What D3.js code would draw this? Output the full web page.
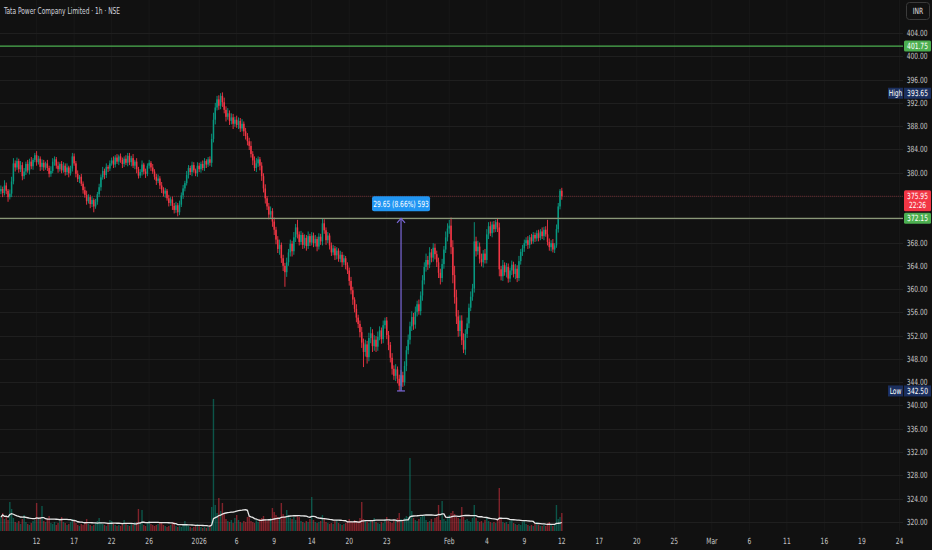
<!DOCTYPE html>
<html>
<head>
<meta charset="utf-8">
<script src="https://cdn.jsdelivr.net/npm/d3@7"></script>
<style>
  html, body { margin: 0; padding: 0; background: #111111; }
  svg { display: block; font-family: "Liberation Sans Narrow", "DejaVu Sans Condensed", "Liberation Sans", sans-serif; }
</style>
</head>
<body>
<svg id="chart" width="932" height="550"></svg>
<script>
const TITLE = "Tata Power Company Limited · 1h · NSE";

// hourly closes, Dec 9 (partial) .. Feb 12 (first bar), 7 bars per session
const firstOpen = 376.8;
const closes = [
  377.2, 376.5, 377.8, 376.9, 375.8, 376.4,
  378.5, 381.6, 380.9, 382.0, 380.6, 381.3, 379.4,
  380.2, 381.5, 380.4, 381.9, 381.1, 382.2, 383.0,
  381.8, 382.4, 381.0, 381.7, 380.9, 381.6, 380.8,
  379.8, 380.3, 381.9, 382.3, 381.2, 380.6, 381.5,
  380.4, 381.2, 380.1, 380.9, 379.9, 380.7, 382.8,
  381.6, 379.8, 378.9, 379.3, 378.1, 377.0, 376.2,
  375.1, 375.8, 374.6, 375.3, 374.2, 375.0, 376.3,
  377.5, 379.2, 380.3, 379.6, 381.0, 380.7, 381.6,
  382.1, 381.4, 382.6, 381.9, 382.8, 382.2, 381.5,
  382.4, 381.7, 382.9, 381.8, 382.5, 381.2, 381.9,
  380.6, 379.5, 380.1, 381.4, 380.2, 379.8, 381.2,
  381.7, 380.9, 380.2, 379.3, 378.6, 379.0, 377.8,
  377.1, 376.4, 376.9, 375.6, 374.8, 375.4, 374.3,
  373.6, 374.4, 373.2, 374.5, 376.1, 377.3, 378.2,
  379.6, 380.8, 380.1, 381.3, 380.4, 379.9, 381.2,
  380.6, 381.5, 380.8, 382.0, 381.4, 382.3, 381.7,
  385.8, 389.1, 391.2, 392.6, 391.5, 393.2, 392.1,
  390.8, 389.6, 390.2, 388.9, 389.5, 388.4, 389.1,
  388.2, 388.9, 387.6, 388.4, 387.1, 386.3, 385.4,
  384.6, 383.2, 382.1, 380.8, 381.6, 382.3, 381.2,
  379.4, 377.3, 375.6, 374.2, 372.8, 373.4, 371.6,
  370.2, 368.5, 366.9, 367.6, 365.3, 364.0, 362.9,
  364.6, 366.3, 367.8, 366.5, 368.9, 370.6, 369.4,
  368.1, 369.3, 367.6, 368.8, 367.4, 369.1, 368.0,
  369.2, 367.9, 368.6, 367.3, 369.0, 368.2, 371.3,
  370.1, 368.4, 369.2, 367.5, 366.3, 367.0, 365.8,
  366.6, 365.2, 365.9, 364.6, 365.3, 364.1, 363.2,
  361.4, 359.8, 358.2, 356.6, 355.1, 354.0, 352.6,
  350.8, 349.2, 350.5, 348.3, 351.6, 352.4, 350.2,
  351.3, 350.1, 351.8, 352.9, 351.4, 353.8, 354.6,
  352.1, 350.4, 348.2, 346.3, 345.1, 346.2, 344.6,
  343.4, 345.2, 344.0, 346.8, 349.5, 351.3, 353.6,
  355.2, 353.9, 356.1, 357.4, 356.2, 358.9, 361.5,
  363.8, 365.0, 364.2, 366.3, 365.4, 367.1, 366.0,
  364.6, 362.8, 361.9, 364.3, 366.8, 368.9, 370.4,
  370.9, 367.2, 362.4, 358.6, 355.3, 352.8, 354.6,
  351.2, 349.6, 352.3, 354.1, 356.8, 358.7, 360.1,
  368.2, 366.5, 367.3, 365.2, 364.6, 366.1, 365.0,
  369.4, 370.8, 369.6, 371.1, 370.3, 371.5, 370.6,
  363.4, 362.2, 364.1, 362.9, 363.8, 361.8, 363.2,
  364.2, 362.6, 363.5, 361.9, 364.8, 366.4, 367.0,
  367.9, 368.4, 367.6, 368.9, 368.2, 369.3, 368.7,
  369.6, 368.8, 369.9, 369.1, 370.2, 369.4, 368.1,
  367.2, 367.9, 366.8, 367.5, 370.3, 374.2, 376.9,
  375.95
];

// wick length above max(open, close)
const highExt = [
  0.6, 0.4, 0.9, 0.5, 0.3, 0.7,
  0.8, 0.9, 0.5, 0.6, 0.4, 0.7, 0.5,
  0.6, 0.4, 0.7, 0.5, 0.8, 0.3, 0.4,
  0.7, 0.5, 0.4, 0.6, 0.5, 0.3, 0.6,
  0.4, 0.8, 0.6, 0.5, 0.4, 0.7, 0.3,
  0.5, 0.6, 0.4, 0.7, 0.3, 0.5, 0.6,
  0.5, 0.4, 0.6, 0.3, 0.5, 0.4, 0.6,
  0.7, 0.5, 0.4, 0.6, 0.3, 0.5, 0.4,
  0.6, 0.5, 0.7, 0.4, 0.6, 0.3, 0.5,
  0.5, 0.7, 0.4, 0.6, 0.3, 0.5, 0.4,
  0.4, 0.6, 0.5, 0.5, 0.4, 0.7, 0.3,
  0.6, 0.4, 0.5, 0.7, 0.3, 0.5, 0.4,
  0.5, 0.3, 0.6, 0.4, 0.5, 0.7, 0.4,
  0.6, 0.4, 0.5, 0.3, 0.6, 0.4, 0.5,
  0.5, 0.6, 0.4, 0.7, 0.5, 0.6, 0.4,
  0.7, 0.5, 0.4, 0.6, 0.5, 0.3, 0.6,
  0.5, 0.4, 0.6, 0.5, 0.3, 0.4, 0.5,
  0.9, 1.2, 0.8, 0.6, 0.7, 0.45, 0.6,
  0.8, 0.6, 0.9, 0.5, 0.7, 0.6, 0.5,
  0.7, 0.6, 0.5, 0.8, 0.4, 0.6, 0.5,
  0.6, 0.8, 0.5, 0.7, 0.9, 0.5, 0.4,
  0.6, 0.5, 0.7, 0.4, 0.6, 0.8, 0.5,
  0.7, 0.5, 0.6, 0.9, 0.4, 0.6, 0.5,
  0.8, 0.6, 0.7, 0.5, 0.9, 0.6, 1.3,
  0.5, 0.7, 0.4, 0.6, 0.5, 0.8, 0.4,
  0.6, 0.5, 0.7, 0.4, 0.6, 0.5, 0.9,
  0.7, 0.5, 0.6, 0.4, 0.5, 0.6, 0.4,
  0.6, 0.4, 0.7, 0.5, 0.6, 0.4, 0.5,
  0.5, 0.7, 0.6, 0.4, 0.8, 0.5, 0.6,
  0.9, 0.7, 0.8, 0.6, 0.9, 1.1, 0.7,
  0.8, 0.6, 0.9, 0.7, 0.5, 0.8, 0.5,
  0.6, 0.7, 0.5, 0.8, 0.6, 0.9, 0.5,
  0.7, 0.9, 0.6, 0.8, 0.7, 0.9, 0.8,
  1.0, 0.7, 0.9, 0.6, 0.8, 0.7, 0.9,
  0.8, 1.1, 0.7, 0.9, 0.6, 0.8, 0.7,
  0.6, 0.8, 0.7, 0.9, 0.6, 1.0, 0.9,
  1.0, 1.4, 1.2, 1.6, 1.3, 1.1, 0.9,
  0.9, 1.2, 0.8, 1.0, 0.7, 0.9, 0.8,
  3.3, 0.8, 1.0, 0.7, 0.9, 0.6, 0.8,
  0.9, 0.7, 0.8, 0.5, 0.6, 0.4, 0.7,
  0.8, 0.6, 0.9, 0.5, 0.7, 0.6, 0.5,
  0.7, 0.5, 0.8, 0.6, 0.9, 0.5, 0.6,
  0.6, 0.5, 0.7, 0.4, 0.6, 0.5, 0.4,
  0.5, 0.6, 0.4, 0.7, 0.5, 0.6, 2.5,
  0.6, 0.5, 0.7, 0.4, 0.8, 0.6, 0.3,
  0.5
];

// wick length below min(open, close)
const lowExt = [
  0.5, 0.7, 0.4, 0.6, 0.8, 0.4,
  0.6, 0.5, 0.7, 0.4, 0.6, 0.5, 0.7,
  0.5, 0.6, 0.4, 0.7, 0.5, 0.6, 0.4,
  0.6, 0.4, 0.7, 0.5, 0.6, 0.4, 0.5,
  0.6, 0.5, 0.4, 0.7, 0.5, 0.6, 0.4,
  0.5, 0.4, 0.6, 0.5, 0.7, 0.4, 0.5,
  0.4, 0.6, 0.5, 0.7, 0.4, 0.6, 0.5,
  0.6, 0.4, 0.7, 0.5, 1.0, 0.4, 0.5,
  0.5, 0.6, 0.4, 0.7, 0.5, 0.6, 0.4,
  0.4, 0.6, 0.5, 0.4, 0.6, 0.5, 0.7,
  0.5, 0.4, 0.6, 0.5, 0.7, 0.4, 0.6,
  0.7, 0.5, 0.4, 0.6, 0.5, 0.7, 0.4,
  0.5, 0.6, 0.4, 0.5, 0.7, 0.4, 0.6,
  0.6, 0.5, 0.7, 0.4, 0.6, 0.5, 0.7,
  0.6, 0.5, 0.7, 0.5, 0.4, 0.6, 0.5,
  0.4, 0.6, 0.5, 0.7, 0.4, 0.5, 0.6,
  0.5, 0.6, 0.4, 0.5, 0.6, 0.4, 0.5,
  0.7, 0.6, 0.8, 0.5, 0.7, 0.6, 0.8,
  0.6, 0.8, 0.5, 0.7, 0.6, 0.9, 0.5,
  0.5, 0.7, 0.6, 0.5, 0.8, 0.6, 0.7,
  0.7, 0.6, 0.8, 0.5, 0.7, 0.6, 0.8,
  0.8, 0.7, 0.9, 0.6, 0.8, 0.7, 0.9,
  0.9, 0.8, 0.7, 1.0, 0.8, 0.9, 2.5,
  0.8, 0.6, 0.7, 0.9, 0.6, 0.8, 0.7,
  0.6, 0.5, 0.7, 0.6, 0.8, 0.5, 0.6,
  0.5, 0.7, 0.6, 0.8, 0.5, 0.6, 0.7,
  0.6, 0.8, 0.5, 0.7, 0.6, 0.5, 0.8,
  0.7, 0.5, 0.6, 0.8, 0.5, 0.7, 0.6,
  0.8, 0.7, 0.9, 0.6, 0.8, 0.7, 0.9,
  0.9, 2.6, 0.8, 1.1, 0.7, 0.9, 1.0,
  0.8, 0.9, 0.7, 0.6, 0.8, 0.7, 0.6,
  0.7, 0.9, 0.8, 1.0, 0.7, 0.9, 0.8,
  0.9, 0.7, 0.8, 0.6, 0.9, 0.7, 0.8,
  0.8, 0.9, 0.7, 0.8, 0.6, 0.7, 0.9,
  0.7, 0.8, 0.9, 0.6, 0.8, 0.7, 0.9,
  0.8, 0.9, 1.1, 0.7, 0.8, 0.6, 0.7,
  0.9, 1.2, 1.4, 1.1, 1.3, 1.0, 0.9,
  0.8, 0.6, 0.9, 0.7, 0.8, 0.6, 0.7,
  0.7, 0.9, 0.6, 0.8, 0.7, 0.9, 0.6,
  0.6, 0.8, 0.5, 0.7, 0.6, 0.5, 0.8,
  1.2, 0.7, 0.8, 0.6, 0.9, 0.7, 0.6,
  0.8, 0.6, 0.9, 0.7, 0.5, 0.6, 0.7,
  0.6, 0.5, 0.7, 0.6, 0.5, 0.4, 0.6,
  0.5, 0.6, 0.4, 0.5, 0.7, 0.4, 0.6,
  0.6, 0.7, 0.5, 0.6, 0.4, 0.6, 0.5,
  0.6
];

// volume, lakh shares per bar
const volumes = [
  14, 18, 12, 15, 11, 29,
  22, 13, 9, 8, 10, 7, 12,
  16, 9, 7, 6, 8, 10, 11,
  28, 12, 14, 25, 10, 9, 13,
  15, 8, 7, 9, 6, 8, 10,
  14, 9, 8, 6, 7, 9, 12,
  11, 8, 6, 5, 7, 6, 9,
  12, 7, 6, 5, 6, 8, 10,
  13, 9, 7, 6, 5, 7, 11,
  10, 7, 6, 5, 6, 5, 8,
  11, 8, 6, 5, 7, 6, 9,
  9, 22, 7, 21, 6, 5, 8,
  10, 7, 6, 5, 6, 7, 9,
  8, 6, 5, 4, 5, 6, 8,
  9, 5, 4, 5, 4, 6, 10,
  7, 5, 4, 3, 4, 5, 7,
  6, 4, 3, 4, 3, 4, 6,
  24, 132, 26, 18, 33, 20, 28,
  18, 12, 10, 9, 11, 8, 13,
  16, 11, 9, 8, 10, 9, 14,
  15, 10, 9, 8, 11, 9, 12,
  13, 15, 12, 10, 11, 13, 23,
  19, 16, 14, 12, 28, 17, 15,
  21, 16, 13, 12, 14, 11, 15,
  14, 10, 9, 8, 10, 9, 12,
  34, 11, 9, 8, 9, 10, 16,
  12, 9, 8, 7, 8, 7, 10,
  11, 8, 7, 6, 7, 8, 10,
  12, 10, 9, 11, 9, 10, 13,
  29, 12, 10, 9, 8, 10, 11,
  13, 9, 8, 7, 9, 8, 12,
  14, 10, 9, 8, 11, 10, 13,
  18, 12, 11, 13, 15, 14, 73,
  20, 13, 11, 10, 12, 14, 16,
  15, 11, 9, 10, 12, 9, 13,
  14, 26, 11, 30, 12, 10, 14,
  16, 18, 20, 17, 14, 13, 12,
  24, 14, 11, 12, 10, 9, 13,
  26, 13, 10, 9, 10, 8, 11,
  14, 10, 9, 8, 9, 8, 12,
  43, 12, 9, 8, 9, 7, 10,
  11, 8, 7, 6, 7, 6, 9,
  10, 7, 6, 5, 6, 5, 8,
  9, 6, 5, 5, 6, 5, 8,
  9, 6, 5, 6, 26, 12, 14,
  18
];

const tickLabels = ["12", "17", "22", "26", "2026", "6", "9", "14", "20", "23", "Feb", "4", "9", "12",
                    "17", "20", "25", "Mar", "6", "11", "16", "19", "24"];
const tickBars = [20, 41, 62, 83, 111, 132, 153, 174, 195, 216, 251, 272, 293, 314,
                  335, 356, 377, 398, 419, 440, 461, 482, 503];
const priceTicks = [320, 324, 328, 332, 336, 340, 344, 348, 352, 356, 360, 364, 368, 372, 376,
                    380, 384, 388, 392, 396, 400, 404];

const levelLines = [401.75, 372.15];
const lastPrice = 375.95, countdown = "22:26";
const highPrice = 393.65, lowPrice = 342.5;
const measureBar = 224, measureLow = 342.5, measureHigh = 372.15;
const measureText = "29.65 (8.66%) 593";
const maLength = 20;

const UP = "#089981", DOWN = "#f23645";
const SX = 0.78; // horizontal squeeze to mimic the narrow UI font

const svg = d3.select("#chart");
const W = 932, H = 550, plotR = 903, volBase = 531;

const n = Math.min(closes.length, highExt.length, lowExt.length, volumes.length);
const bars = [];
for (let i = 0; i < n; i++) {
  const o = i ? closes[i - 1] : firstOpen;
  const c = closes[i];
  bars.push({ i, o, c, h: Math.max(o, c) + highExt[i], l: Math.min(o, c) - lowExt[i], v: volumes[i] });
}
bars.forEach((b, i) => {
  b.ma = d3.mean(bars.slice(Math.max(0, i - maLength + 1), i + 1), d => d.v);
});

const x = d3.scaleLinear().domain([-0.5, 505]).range([0, plotR]);
const y = d3.scaleLinear().domain([320, 404]).range([521.9, 33]);
const yv = d3.scaleLinear().domain([0, 135]).range([volBase, volBase - 135]);
const fmt = d3.format(".2f");

function label(g, tx, ty, str, size, anchor, fill) {
  return g.append("text")
    .attr("transform", `translate(${tx},${ty}) scale(${SX},1)`)
    .attr("text-anchor", anchor).attr("font-size", size).attr("fill", fill)
    .text(str);
}

svg.append("rect").attr("width", W).attr("height", H).attr("fill", "#111111");

svg.append("defs").append("clipPath").attr("id", "plot")
  .append("rect").attr("width", plotR).attr("height", volBase + 1);

// grid
const grid = svg.append("g");
grid.selectAll("line.v").data(tickBars).enter().append("line")
  .attr("x1", d => x(d)).attr("x2", d => x(d))
  .attr("y1", 0).attr("y2", volBase)
  .attr("stroke", "#181818").attr("stroke-width", 1);
grid.selectAll("line.h").data(priceTicks).enter().append("line")
  .attr("x1", 0).attr("x2", plotR)
  .attr("y1", d => Math.round(y(d)) + 0.5).attr("y2", d => Math.round(y(d)) + 0.5)
  .attr("stroke", "#1f1f1f").attr("stroke-width", 1);

const plot = svg.append("g").attr("clip-path", "url(#plot)");

// volume
plot.append("g").selectAll("rect").data(bars).enter().append("rect")
  .attr("x", d => x(d.i) - 0.7)
  .attr("width", 1.4)
  .attr("y", d => yv(d.v))
  .attr("height", d => volBase - yv(d.v))
  .attr("fill", d => d.c >= d.o ? UP : DOWN)
  .attr("opacity", 0.5);

plot.append("path").datum(bars)
  .attr("fill", "none").attr("stroke", "#e6e6e6").attr("stroke-width", 1.3)
  .attr("d", d3.line().x(d => x(d.i)).y(d => yv(d.ma)));

// current price line
plot.append("line")
  .attr("x1", 0).attr("x2", plotR)
  .attr("y1", y(lastPrice)).attr("y2", y(lastPrice))
  .attr("stroke", DOWN).attr("stroke-opacity", 0.35).attr("stroke-width", 1)
  .attr("stroke-dasharray", "1,1");

// candles
const candle = plot.append("g").selectAll("g").data(bars).enter().append("g")
  .attr("fill", d => d.c >= d.o ? UP : DOWN);
candle.append("rect")
  .attr("x", d => x(d.i) - 0.45).attr("width", 0.9)
  .attr("y", d => y(d.h)).attr("height", d => y(d.l) - y(d.h));
candle.append("rect")
  .attr("x", d => x(d.i) - 0.75).attr("width", 1.5)
  .attr("y", d => y(Math.max(d.o, d.c)))
  .attr("height", d => Math.max(0.8, Math.abs(y(d.o) - y(d.c))));

// horizontal levels
plot.append("line")
  .attr("x1", 0).attr("x2", plotR)
  .attr("y1", y(levelLines[0])).attr("y2", y(levelLines[0]))
  .attr("stroke", "#4caf50").attr("stroke-width", 1.3);
plot.append("line")
  .attr("x1", 0).attr("x2", plotR)
  .attr("y1", y(levelLines[1])).attr("y2", y(levelLines[1]))
  .attr("stroke", "#8a9878").attr("stroke-width", 1.2);

// price range measure
const mx = x(measureBar), mTop = y(measureHigh), mBot = y(measureLow);
const meas = svg.append("g").attr("stroke", "#7b68d9").attr("stroke-width", 1.2).attr("fill", "none");
meas.append("line").attr("x1", mx).attr("x2", mx).attr("y1", mBot).attr("y2", mTop);
meas.append("line").attr("x1", mx - 4).attr("x2", mx + 4).attr("y1", mBot).attr("y2", mBot);
meas.append("path").attr("d", `M${mx - 4},${mTop + 4.5}L${mx},${mTop}L${mx + 4},${mTop + 4.5}`);
svg.append("rect")
  .attr("x", mx - 29).attr("y", mTop - 22).attr("width", 58).attr("height", 15).attr("rx", 2)
  .attr("fill", "#2196f3");
label(svg, mx, mTop - 11.5, measureText, 8.5, "middle", "#ffffff");

// right axis
const tagYs = [y(lastPrice), y(levelLines[1])];
const axisR = svg.append("g");
priceTicks.filter(p => tagYs.every(t => Math.abs(y(p) - t) > 6)).forEach(p => {
  label(axisR, 927.5, y(p) + 3, fmt(p), 8.5, "end", "#c4c4c4");
});

// bottom axis
const axisB = svg.append("g");
tickLabels.forEach((t, i) => label(axisB, x(tickBars[i]), 544, t, 8.5, "middle", "#c4c4c4"));

// tags
function tag(price, fill, txt) {
  const ty = y(price);
  svg.append("rect").attr("x", 904).attr("y", ty - 5.5).attr("width", 27).attr("height", 11)
    .attr("rx", 1.5).attr("fill", fill);
  label(svg, 917.5, ty + 3, txt, 8.5, "middle", "#ffffff");
}
tag(levelLines[0], "#4caf50", fmt(levelLines[0]));
tag(levelLines[1], "#4caf50", fmt(levelLines[1]));

const ly = y(lastPrice);
svg.append("rect").attr("x", 904).attr("y", ly - 6).attr("width", 27).attr("height", 21)
  .attr("rx", 1.5).attr("fill", DOWN);
label(svg, 917.5, ly + 3, fmt(lastPrice), 8.5, "middle", "#ffffff");
label(svg, 917.5, ly + 12, countdown, 8.5, "middle", "#ffffff");

function extTag(price, word) {
  const ty = y(price);
  svg.append("rect").attr("x", 888).attr("y", ty - 5.5).attr("width", 15).attr("height", 11)
    .attr("fill", "#1b2f5e");
  label(svg, 895.5, ty + 3, word, 8.5, "middle", "#ffffff");
  svg.append("rect").attr("x", 904).attr("y", ty - 5.5).attr("width", 27).attr("height", 11)
    .attr("fill", "#1b2f5e");
  label(svg, 917.5, ty + 3, fmt(price), 8.5, "middle", "#ffffff");
}
extTag(highPrice, "High");
extTag(lowPrice, "Low");

// currency box
svg.append("rect").attr("x", 906.5).attr("y", 2.5).attr("width", 23).attr("height", 17).attr("rx", 3)
  .attr("fill", "#111111").attr("stroke", "#3b3b3b");
label(svg, 918, 14, "INR", 8.5, "middle", "#e0e0e0");

// title
svg.append("text").attr("x", 4).attr("y", 14)
  .attr("font-size", 9).attr("fill", "#d1d4dc")
  .attr("textLength", 116).attr("lengthAdjust", "spacingAndGlyphs")
  .text(TITLE);
</script>
</body>
</html>
